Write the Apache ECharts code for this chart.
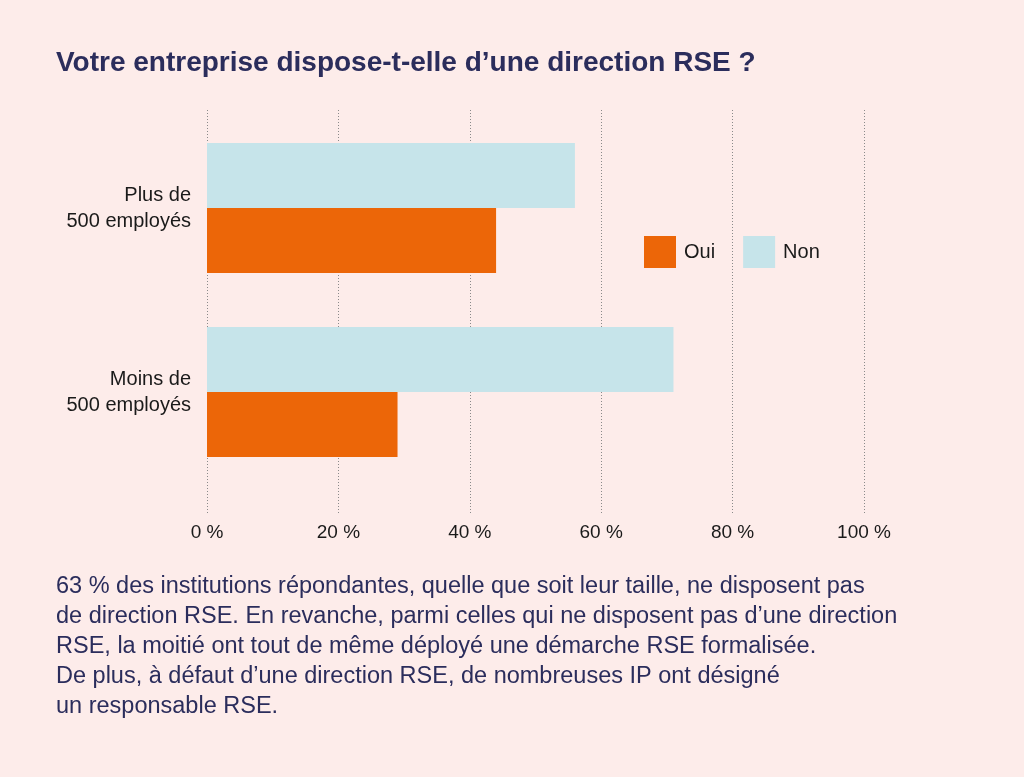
<!DOCTYPE html>
<html><head><meta charset="utf-8">
<script src="https://cdn.jsdelivr.net/npm/echarts@6/dist/echarts.min.js"></script>
<style>html,body{margin:0;padding:0;background:#fdecea;}#c{width:1024px;height:777px;}</style>
</head><body><div id="c"></div>
<script>
const categories = ['Plus de\n500 employés', 'Moins de\n500 employés'];
const seriesNames = ['Oui', 'Non'];
const ouiValues = [44, 29];
const nonValues = [56, 71];
const tickLabels = ['0 %', '20 %', '40 %', '60 %', '80 %', '100 %'];
const titleText = 'Votre entreprise dispose-t-elle d’une direction RSE ?';
const noteLines = [
  '63 % des institutions répondantes, quelle que soit leur taille, ne disposent pas',
  'de direction RSE. En revanche, parmi celles qui ne disposent pas d’une direction',
  'RSE, la moitié ont tout de même déployé une démarche RSE formalisée.',
  'De plus, à défaut d’une direction RSE, de nombreuses IP ont désigné',
  'un responsable RSE.'
];

const chart = echarts.init(document.getElementById('c'));
const font = 'Liberation Sans';
const navy = '#2b2d5c';
chart.setOption({
  backgroundColor: '#fdecea',
  animation: false,
  title: {
    text: titleText, left: 51, top: 44,
    textStyle: {fontFamily: font, fontSize: 28, fontWeight: 'bold', color: navy}
  },
  legend: {
    data: seriesNames, left: 639, top: 231, itemWidth: 32, itemHeight: 32, itemGap: 28,
    icon: 'rect',
    textStyle: {fontFamily: font, fontSize: 20, color: '#1a1a1a', padding: [0, 0, 0, 3]}
  },
  grid: [
    {left: 207, width: 657, top: 116, height: 368},
    {left: 207, width: 657, top: 110, height: 405}
  ],
  xAxis: [
    {gridIndex: 0, type: 'value', min: 0, max: 100, interval: 20,
      axisLine: {show: false}, axisTick: {show: false}, axisLabel: {show: false}, splitLine: {show: false}},
    {gridIndex: 1, type: 'value', min: 0, max: 100, interval: 20,
      axisLine: {show: false}, axisTick: {show: false},
      axisLabel: {formatter: v => tickLabels[v / 20], fontFamily: font, fontSize: 19, color: '#1a1a1a', margin: 8},
      splitLine: {show: true, lineStyle: {color: '#8a8a8a', type: [1, 2], width: 1}}}
  ],
  yAxis: [
    {gridIndex: 0, type: 'category', data: categories, inverse: true,
      axisLine: {show: false}, axisTick: {show: false},
      axisLabel: {fontFamily: font, fontSize: 20, color: '#1a1a1a', lineHeight: 26, margin: 16, align: 'right',
        padding: [6, 0, 0, 0]}},
    {gridIndex: 1, type: 'category', data: categories, show: false}
  ],
  series: [
    {name: 'Non', type: 'bar', xAxisIndex: 0, yAxisIndex: 0, data: nonValues, barWidth: 65, barGap: '0%',
      itemStyle: {color: '#c6e4ea'}, z: 3},
    {name: 'Oui', type: 'bar', xAxisIndex: 0, yAxisIndex: 0, data: ouiValues, barWidth: 65, barGap: '0%',
      itemStyle: {color: '#ec6608'}, z: 3}
  ],
  graphic: noteLines.map((t, i) => ({
    type: 'text', left: 56, top: 575 + i * 30,
    style: {text: t, font: '23.5px "Liberation Sans"', fill: navy}
  }))
});
</script></body></html>
